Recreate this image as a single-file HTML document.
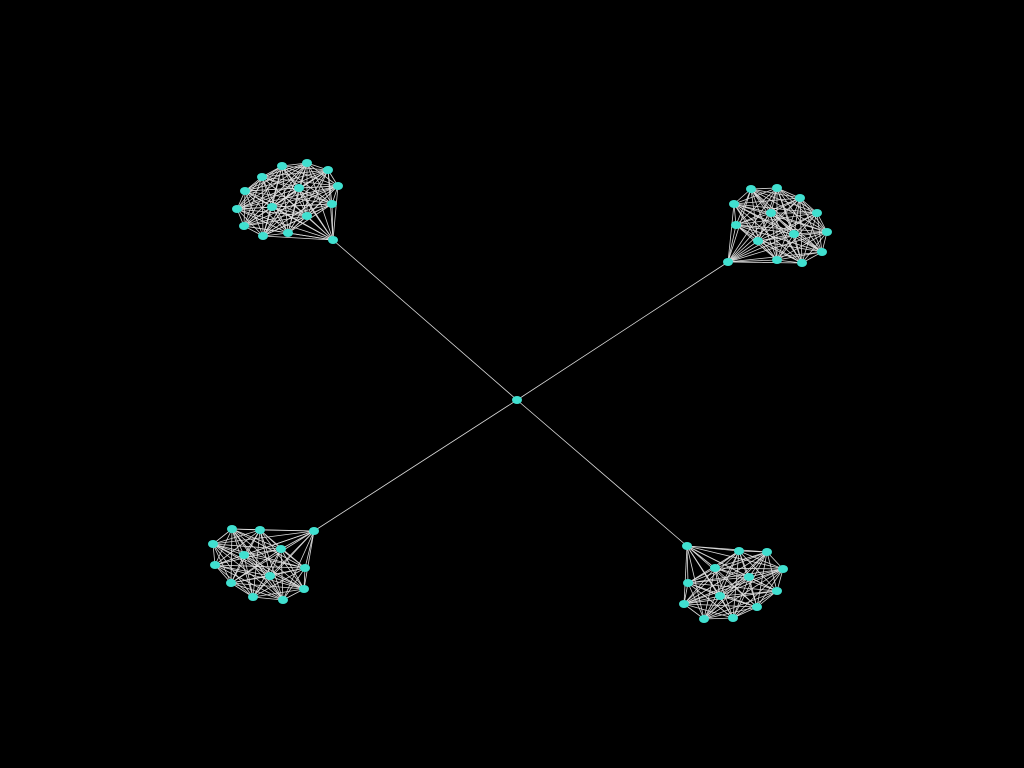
<!DOCTYPE html>
<html><head><meta charset="utf-8"><style>html,body{margin:0;background:#000;}svg{display:block}</style></head>
<body>
<svg id="g" width="1024" height="768" viewBox="0 0 1024 768">
<rect width="1024" height="768" fill="#000"/>
<g id="edges"></g>
<g id="nodes"></g>
</svg>
<script>
const hub = [517,400];
const clusterA = [[282,166],[307,163],[328,170],[262,177],[245,191],[299,188],[338,186],[237,209],[272,207],[332,204],[307,216],[244,226],[263,236],[288,233],[333,240]];
const clusterB = [[751,189],[777,188],[800,198],[734,204],[771,213],[817,213],[736,225],[794,234],[827,232],[758,241],[822,252],[728,262],[777,260],[802,263]];
const clusterC = [[232,529],[260,530],[314,531],[213,544],[281,549],[244,555],[215,565],[305,568],[270,576],[231,583],[304,589],[253,597],[283,600]];
const clusterD = [[687,546],[739,551],[767,552],[715,568],[783,569],[749,577],[688,583],[777,591],[720,596],[684,604],[757,607],[704,619],[733,618]];
const bridges = [[clusterA,14],[clusterB,11],[clusterC,2],[clusterD,0]];
const clusters = [clusterA,clusterB,clusterC,clusterD];
const NS='http://www.w3.org/2000/svg';
const E=document.getElementById('edges'), N=document.getElementById('nodes');
function line(a,b){const l=document.createElementNS(NS,'line');
l.setAttribute('x1',a[0]);l.setAttribute('y1',a[1]);l.setAttribute('x2',b[0]);l.setAttribute('y2',b[1]);
l.setAttribute('stroke','#dcdcdc');l.setAttribute('stroke-width','0.8');


E.appendChild(l);}
function node(p){const c=document.createElementNS(NS,'ellipse');
c.setAttribute('cx',p[0]);c.setAttribute('cy',p[1]);c.setAttribute('rx',5);c.setAttribute('ry',4);c.setAttribute('fill','#40e0d0');


N.appendChild(c);}
clusters.forEach(cl=>{for(let i=0;i<cl.length;i++)for(let j=i+1;j<cl.length;j++)line(cl[i],cl[j]);});
bridges.forEach(b=>line(hub,b[0][b[1]]));
clusters.forEach(cl=>cl.forEach(node));
node(hub);
</script>
</body></html>
